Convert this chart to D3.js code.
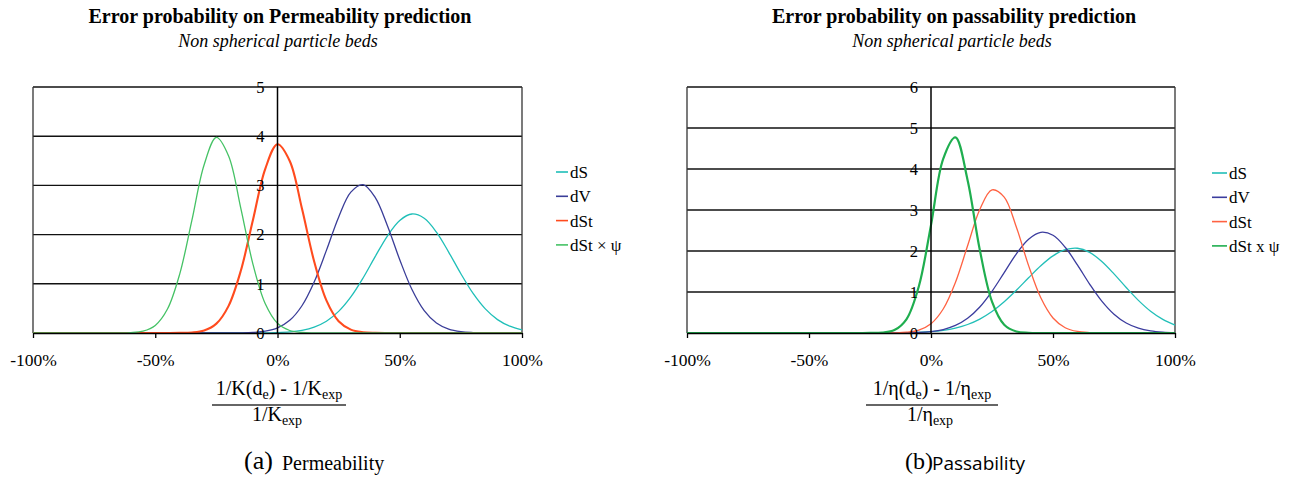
<!DOCTYPE html>
<html><head><meta charset="utf-8">
<script src="https://cdn.jsdelivr.net/npm/d3@7"></script>
<style>
body{margin:0;background:#fff}
svg{display:block}
text{font-family:"Liberation Serif","Times New Roman","DejaVu Serif",serif;fill:#000}
</style>
</head><body><svg id="c" width="1310" height="480"></svg>
<script>
// ---------- data (x in %, y = probability density) ----------
const xPct = [-100,-95,-90,-85,-80,-75,-70,-65,-60,-55,-50,-45,-40,-35,-30,-25,-20,-15,-10,-5,0,5,10,15,20,25,30,35,40,45,50,55,60,65,70,75,80,85,90,95,100];
const xTicks = [-100,-50,0,50,100];
const xTickLabels = ["-100%","-50%","0%","50%","100%"];
const permYTicks = [0,1,2,3,4,5];
const passYTicks = [0,1,2,3,4,5,6];

// (a) Permeability
const permDS      = [0,0,0,0,0,0,0,0,0,0,0,0,0,0,0,0,0,0,0.001,0.003,0.008,0.022,0.054,0.119,0.239,0.439,0.733,1.118,1.557,1.976,2.289,2.419,2.332,2.05,1.645,1.204,0.804,0.49,0.272,0.138,0.064];
const permDV      = [0,0,0,0,0,0,0,0,0,0,0,0,0,0,0,0,0.001,0.003,0.011,0.036,0.103,0.257,0.554,1.037,1.679,2.355,2.864,3.016,2.751,2.174,1.489,0.883,0.454,0.202,0.078,0.026,0.008,0.002,0,0,0];
const permDSt     = [0,0,0,0,0,0,0,0,0,0,0,0,0.002,0.011,0.052,0.19,0.551,1.265,2.306,3.338,3.836,3.497,2.531,1.453,0.662,0.239,0.069,0.016,0.003,0,0,0,0,0,0,0,0,0,0,0,0];
const permDStPsi  = [0,0,0,0,0,0,0,0.001,0.007,0.038,0.154,0.487,1.197,2.294,3.421,3.975,3.597,2.535,1.391,0.595,0.198,0.051,0.01,0.002,0,0,0,0,0,0,0,0,0,0,0,0,0,0,0,0,0];
const permNames   = ["dS","dV","dSt","dSt × ψ"];

// (b) Passability
const passDS      = [0,0,0,0,0,0,0,0,0,0,0,0,0,0,0,0,0.001,0.003,0.007,0.016,0.033,0.064,0.119,0.207,0.339,0.523,0.761,1.043,1.347,1.639,1.88,2.031,2.067,1.967,1.744,1.441,1.109,0.796,0.531,0.331,0.192];
const passDV      = [0,0,0,0,0,0,0,0,0,0,0,0,0,0,0,0,0,0.001,0.005,0.013,0.036,0.085,0.184,0.359,0.635,1.017,1.473,1.931,2.288,2.455,2.383,2.091,1.661,1.193,0.776,0.457,0.243,0.117,0.051,0.02,0.007];
const passDSt     = [0,0,0,0,0,0,0,0,0,0,0,0,0,0,0,0,0.001,0.004,0.019,0.072,0.227,0.585,1.233,2.129,3.012,3.49,3.314,2.578,1.643,0.858,0.367,0.129,0.037,0.009,0.002,0,0,0,0,0,0];
const passDStPsi  = [0,0,0,0,0,0,0,0,0,0,0,0,0,0,0,0.001,0.01,0.071,0.34,1.134,2.632,4.248,4.772,3.728,2.027,0.766,0.202,0.037,0.005,0,0,0,0,0,0,0,0,0,0,0,0];
const passNames   = ["dS","dV","dSt","dSt x ψ"];

// ---------- styles ----------
const permColors = ["#1fbfb8","#3a3d98","#ff4b1e","#45c265"];
const permWidths = [1.3,1.3,2.1,1.3];
const passColors = ["#22bfb8","#3b3c9e","#ff6242","#1fae4f"];
const passWidths = [1.3,1.3,1.3,2.2];
const serif = "Liberation Serif, Times New Roman, DejaVu Serif, serif";

const svg = d3.select("#c");

function panel(o){
  const x = d3.scaleLinear().domain([-100,100]).range([o.x0,o.x1]);
  const y = d3.scaleLinear().domain([0,o.yMax]).range([333,87]);
  const g = svg.append("g");

  // gridlines
  g.append("g").selectAll("line").data(o.yTicks.filter(d=>d>0)).join("line")
    .attr("x1",o.x0).attr("x2",o.x1).attr("y1",d=>y(d)).attr("y2",d=>y(d))
    .attr("stroke","#111").attr("stroke-width",1.4);
  // frame sides
  [o.x0,o.x1].forEach(xx=>g.append("line").attr("x1",xx).attr("x2",xx).attr("y1",y(o.yMax)).attr("y2",y(0))
      .attr("stroke","#333").attr("stroke-width",1.3));

  // series
  const line = d3.line().x((d,i)=>x(xPct[i])).y(d=>y(Math.max(0,d))).curve(d3.curveCatmullRom.alpha(0.5));
  o.series.forEach((s,k)=>{
    g.append("path").datum(s).attr("d",line).attr("fill","none")
      .attr("stroke",o.colors[k]).attr("stroke-width",o.widths[k]);
  });

  // vertical zero axis
  g.append("line").attr("x1",x(0)).attr("x2",x(0)).attr("y1",y(o.yMax)).attr("y2",y(0))
    .attr("stroke","#000").attr("stroke-width",1.5);

  // x axis
  const xa = g.append("g").attr("transform",`translate(0,${y(0)})`)
    .call(d3.axisBottom(x).tickValues(xTicks).tickFormat((d,i)=>xTickLabels[i]).tickSize(5).tickSizeOuter(0).tickPadding(16));
  xa.select(".domain").attr("stroke","#000").attr("stroke-width",1.5);
  xa.selectAll(".tick line").attr("stroke","#000").attr("stroke-width",1.3);
  xa.selectAll("text").attr("font-size",17.5).attr("fill","#000");

  // y axis labels at zero axis
  const ya = g.append("g").attr("transform",`translate(${x(0)},0)`)
    .call(d3.axisLeft(y).tickValues(o.yTicks).tickFormat(d3.format("d")).tickSize(0).tickPadding(13));
  ya.select(".domain").remove();
  ya.selectAll("text").attr("font-size",16.5).attr("fill","#000");

  // legend
  const lg = g.append("g");
  o.names.forEach((n,k)=>{
    const yy = o.legY + k*24.3;
    lg.append("line").attr("x1",o.legX).attr("x2",o.legX+o.legLen).attr("y1",yy).attr("y2",yy)
      .attr("stroke",o.colors[k]).attr("stroke-width",1.6);
    lg.append("text").attr("x",o.legX+o.legLen+2).attr("y",yy).attr("dy","0.35em")
      .attr("font-size",17).text(n);
  });

  // titles
  g.append("text").attr("x",o.tcx).attr("y",23).attr("text-anchor","middle")
    .attr("font-weight","bold").attr("font-size",20).text(o.title);
  g.append("text").attr("x",o.tcx-2).attr("y",47).attr("text-anchor","middle")
    .attr("font-style","italic").attr("font-size",18).text("Non spherical particle beds");

  // fraction label
  const cx = o.fcx;
  const num = g.append("text").attr("x",cx).attr("y",395).attr("text-anchor","middle").attr("font-size",20);
  num.append("tspan").text(`1/${o.sym}(d`);
  num.append("tspan").attr("font-size",14).attr("dy",4).text("e");
  num.append("tspan").attr("dy",-4).text(`) - 1/${o.sym}`);
  num.append("tspan").attr("font-size",14).attr("dy",4).text("exp");
  g.append("line").attr("x1",o.fl0).attr("x2",o.fl1).attr("y1",405).attr("y2",405).attr("stroke","#333").attr("stroke-width",1.3);
  const den = g.append("text").attr("x",cx-2).attr("y",421).attr("text-anchor","middle").attr("font-size",20);
  den.append("tspan").text(`1/${o.sym}`);
  den.append("tspan").attr("font-size",14).attr("dy",4).text("exp");

  // caption
  g.append("text").attr("x",o.capX).attr("y",469).attr("font-size",o.capASize).text(o.capA);
  g.append("text").attr("x",o.capBX).attr("y",470).attr("font-size",o.capSize).style("font-family",o.capFont).text(o.capB);
}

panel({x0:33,x1:522,yMax:5,yTicks:permYTicks,series:[permDS,permDV,permDSt,permDStPsi],
  colors:permColors,widths:permWidths,names:permNames,legX:556,legLen:12,legY:172,
  title:"Error probability on Permeability prediction",tcx:280,sym:"K",fcx:279,fl0:212,fl1:346,
  capX:244,capA:"(a)",capASize:26,capBX:282,capB:"Permeability",capSize:20,capFont:serif});

panel({x0:687,x1:1175,yMax:6,yTicks:passYTicks,series:[passDS,passDV,passDSt,passDStPsi],
  colors:passColors,widths:passWidths,names:passNames,legX:1212,legLen:15,legY:173,
  title:"Error probability on passability prediction",tcx:954,sym:"η",fcx:932,fl0:866,fl1:998,
  capX:905,capA:"(b)",capASize:24,capBX:932,capB:"Passability",capSize:19,capFont:"'Open Sans','Noto Sans',sans-serif"});
</script>
</body></html>
